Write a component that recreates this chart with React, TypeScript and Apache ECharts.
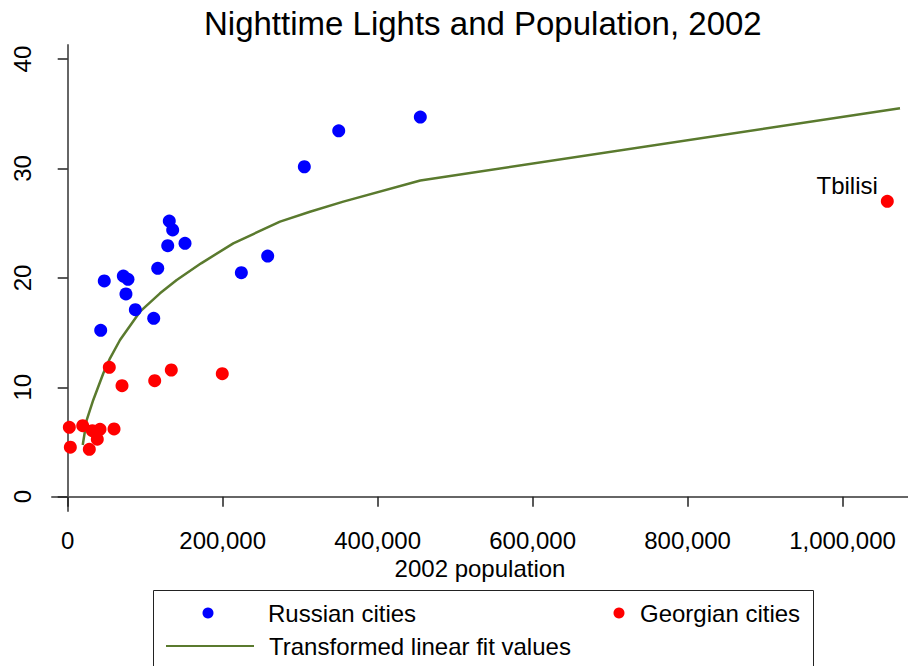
import React, { useEffect, useRef } from "react";
import * as echarts from "echarts";

const TITLE = "Nighttime Lights and Population, 2002";
const X_NAME = "2002 population";

const russianX = [455100, 349800, 305400, 131100, 135500, 151400, 129100, 116200, 258100, 224100, 47200, 71800, 77800, 75200, 87300, 111000, 42600];
const russianY = [34.7, 33.45, 30.16, 25.2, 24.38, 23.16, 22.94, 20.88, 22.0, 20.48, 19.72, 20.17, 19.87, 18.53, 17.09, 16.31, 15.21];

const georgianX = [53700, 70100, 112300, 133700, 199500, 2100, 19400, 31800, 41700, 59800, 38200, 3400, 27900, 1057800];
const georgianY = [11.83, 10.15, 10.6, 11.58, 11.24, 6.34, 6.49, 6.03, 6.16, 6.19, 5.25, 4.52, 4.33, 27.0];
const georgianLabels = ["", "", "", "", "", "", "", "", "", "", "", "", "", "Tbilisi"];

const fitX = [19400, 24500, 33000, 46000, 54600, 67500, 93300, 119100, 140700, 172200, 213700, 274000, 312700, 355700, 455100, 1074200];
const fitY = [4.73, 7.0, 8.84, 11.28, 12.65, 14.32, 16.91, 18.59, 19.81, 21.33, 23.16, 25.14, 26.05, 26.97, 28.9, 35.5];

const xTicks = [0, 200000, 400000, 600000, 800000, 1000000];
const yTicks = [0, 10, 20, 30, 40];

const FONT = "'Liberation Sans', Arial, sans-serif";

export default function App() {
  const ref = useRef<HTMLDivElement>(null);
  useEffect(() => {
    document.body.style.margin = "0";
    const chart = echarts.init(ref.current!, null, { renderer: "svg" });
    const axisLine = { show: true, lineStyle: { color: "#666", width: 2 } };
    const axisTick = { show: true, length: 10, lineStyle: { color: "#222", width: 1.5 } };
    chart.setOption({
      animation: false,
      backgroundColor: "#fff",
      textStyle: { fontFamily: FONT, color: "#000" },
      title: {
        text: TITLE,
        left: 199,
        top: 2,
        textStyle: { fontSize: 33, fontWeight: "normal", color: "#000", fontFamily: FONT },
      },
      grid: { left: 52, right: 0, top: 45, bottom: 155, containLabel: false },
      xAxis: {
        type: "value",
        min: -20260,
        max: 1084500,
        name: X_NAME,
        nameLocation: "middle",
        nameGap: 40,
        nameTextStyle: { fontSize: 24, color: "#000", fontFamily: FONT },
        axisLine,
        axisTick: { ...axisTick, customValues: xTicks },
        axisLabel: {
          customValues: xTicks,
          fontSize: 24,
          color: "#000",
          margin: 17,
          formatter: (v: number) => v.toLocaleString("en-US"),
        },
        splitLine: { show: false },
      },
      yAxis: {
        type: "value",
        min: -1.31,
        max: 41.29,
        axisLine,
        axisTick: { ...axisTick, customValues: yTicks },
        axisLabel: { customValues: yTicks, fontSize: 24, color: "#000", rotate: 90, margin: 18 },
        splitLine: { show: false },
      },
      legend: [
        {
          data: ["Russian cities"],
          left: 202.5,
          top: 601,
          padding: 0,
          itemWidth: 11,
          itemHeight: 11,
          textStyle: { fontSize: 24, color: "#000", fontFamily: FONT, padding: [0, 0, 0, 49.5] },
          selectedMode: false,
        },
        {
          data: ["Georgian cities"],
          left: 613.5,
          top: 601,
          padding: 0,
          itemWidth: 11,
          itemHeight: 11,
          textStyle: { fontSize: 24, color: "#000", fontFamily: FONT, padding: [0, 0, 0, 10.5] },
          selectedMode: false,
        },
        {
          data: ["Transformed linear fit values"],
          left: 165,
          top: 634,
          padding: 0,
          itemWidth: 88,
          itemHeight: 11,
          itemStyle: { opacity: 0 },
          textStyle: { fontSize: 24, color: "#000", fontFamily: FONT, padding: [0, 0, 0, 10] },
          selectedMode: false,
        },
      ],
      graphic: [
        {
          type: "rect",
          shape: { x: 153.5, y: 590.5, width: 660, height: 120 },
          style: { fill: "none", stroke: "#222", lineWidth: 1 },
          silent: true,
        },
      ],
      series: [
        {
          name: "Russian cities",
          type: "scatter",
          symbol: "circle",
          symbolSize: 13,
          itemStyle: { color: "#0000ff", opacity: 1 },
          data: russianX.map((x, i) => [x, russianY[i]]),
          z: 3,
        },
        {
          name: "Georgian cities",
          type: "scatter",
          symbol: "circle",
          symbolSize: 13,
          itemStyle: { color: "#ff0000", opacity: 1 },
          data: georgianX.map((x, i) => ({
            value: [x, georgianY[i]],
            label: georgianLabels[i]
              ? {
                  show: true,
                  formatter: georgianLabels[i],
                  position: "left",
                  distance: 3,
                  offset: [0, -16],
                  fontSize: 24,
                  color: "#000",
                  fontFamily: FONT,
                }
              : { show: false },
          })),
          z: 3,
        },
        {
          name: "Transformed linear fit values",
          type: "line",
          symbol: "none",
          showSymbol: false,
          lineStyle: { color: "#5a7a2e", width: 2.5 },
          itemStyle: { color: "#5a7a2e" },
          data: fitX.map((x, i) => [x, fitY[i]]),
          z: 2,
        },
      ],
    });
    return () => chart.dispose();
  }, []);
  return <div ref={ref} style={{ width: 908, height: 666 }} />;
}
